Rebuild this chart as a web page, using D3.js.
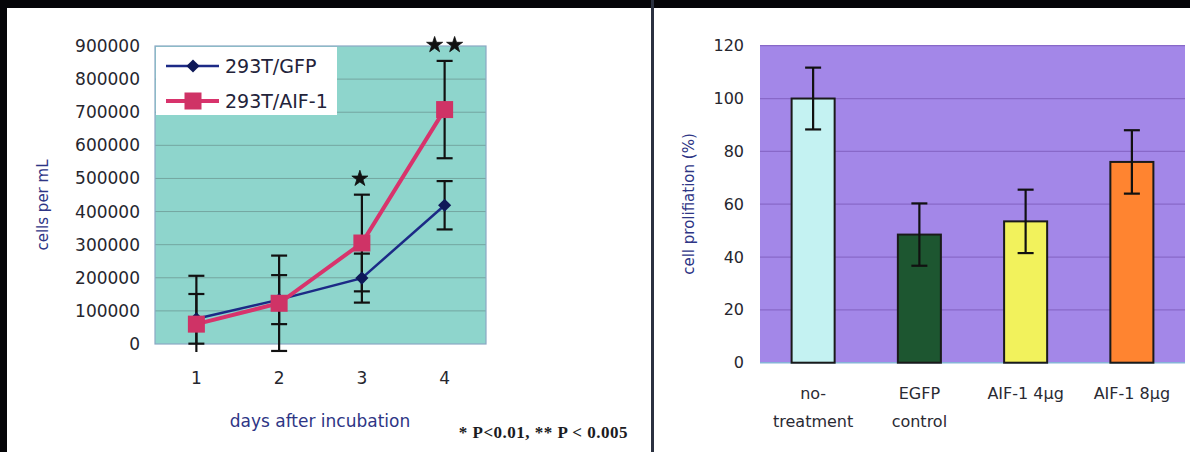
<!DOCTYPE html>
<html>
<head>
<meta charset="utf-8">
<script src="https://cdn.jsdelivr.net/npm/d3@7"></script>
<style>
  html, body { margin: 0; padding: 0; background: #fff; }
  svg { display: block; }
  text { font-family: "DejaVu Sans", sans-serif; }
  text.note { font-family: "Liberation Serif", serif; font-weight: bold; letter-spacing: 0.5px; }
</style>
</head>
<body>
<svg id="fig" width="1190" height="452"></svg>
<script>
// ---- growth curve data (cells per mL) ----
const days = ["1", "2", "3", "4"];
const gfpCells = [76000, 134000, 199000, 419000];
const gfpErr = [75000, 74000, 74000, 73000];
const aifCells = [60000, 123000, 305000, 708000];
const aifErr = [146000, 144000, 146000, 147000];
const cellTicks = [0, 100000, 200000, 300000, 400000, 500000, 600000, 700000, 800000, 900000];
const seriesNames = ["293T/GFP", "293T/AIF-1"];
// significance marks: day and number of stars
const sigDays = ["3", "4"];
const sigStars = [1, 2];
const footnote = "* P<0.01, ** P < 0.005";

// ---- proliferation data (%) ----
const groups = ["no-treatment", "EGFP control", "AIF-1 4µg", "AIF-1 8µg"];
const groupLines = [["no-", "treatment"], ["EGFP", "control"], ["AIF-1 4µg"], ["AIF-1 8µg"]];
const prolif = [100, 48.5, 53.5, 76];
const prolifErr = [11.7, 11.8, 12, 12];
const pctTicks = [0, 20, 40, 60, 80, 100, 120];
const barColors = ["#c4f2f2", "#1d5630", "#f2f25c", "#ff8430"];

const svg = d3.select("#fig");

// ---- frame ----
svg.append("rect").attr("x", 0).attr("y", 0).attr("width", 1190).attr("height", 452).attr("fill", "#fff");
svg.append("rect").attr("x", 0).attr("y", 0).attr("width", 1190).attr("height", 8).attr("fill", "#050508");
svg.append("rect").attr("x", 0).attr("y", 0).attr("width", 7).attr("height", 452).attr("fill", "#050508");
svg.append("rect").attr("x", 651).attr("y", 0).attr("width", 3).attr("height", 452).attr("fill", "#2b3140");

// =====================================================================
// Left: cell growth line chart
// =====================================================================
const L = { x0: 155, x1: 486, y0: 46, y1: 344 };
const xL = d3.scaleBand().domain(days).range([L.x0, L.x1]).padding(0);
const yL = d3.scaleLinear().domain([0, 900000]).range([L.y1, L.y0]);
const cx = d => xL(d) + xL.bandwidth() / 2;

const gL = svg.append("g");
gL.append("rect")
  .attr("x", L.x0).attr("y", L.y0)
  .attr("width", L.x1 - L.x0).attr("height", L.y1 - L.y0)
  .attr("fill", "#8ed5cc");

// horizontal gridlines
gL.append("g").selectAll("line")
  .data(cellTicks.filter(t => t > 0 && t < 900000))
  .join("line")
  .attr("x1", L.x0).attr("x2", L.x1)
  .attr("y1", d => yL(d)).attr("y2", d => yL(d))
  .attr("stroke", "#74a6a0").attr("stroke-width", 1);

gL.append("rect")
  .attr("x", L.x0).attr("y", L.y0)
  .attr("width", L.x1 - L.x0).attr("height", L.y1 - L.y0)
  .attr("fill", "none").attr("stroke", "#8aa8c4").attr("stroke-width", 1.2);

// y axis
const yAxisL = gL.append("g")
  .attr("transform", `translate(${L.x0},0)`)
  .call(d3.axisLeft(yL).tickValues(cellTicks).tickFormat(d3.format("d")).tickSize(0).tickPadding(15));
yAxisL.select(".domain").remove();
yAxisL.selectAll("text").attr("font-size", 17).attr("fill", "#26262e");

// x axis
const xAxisL = gL.append("g")
  .attr("transform", `translate(0,${L.y1})`)
  .call(d3.axisBottom(xL).tickSize(0).tickPadding(28));
xAxisL.select(".domain").remove();
xAxisL.selectAll("text").attr("font-size", 17).attr("fill", "#26262e");

gL.append("text")
  .attr("transform", "translate(48,205) rotate(-90)")
  .attr("text-anchor", "middle")
  .attr("font-size", 15).attr("fill", "#2e3585")
  .text("cells per mL");

gL.append("text")
  .attr("x", 320).attr("y", 427)
  .attr("text-anchor", "middle")
  .attr("font-size", 17).attr("fill", "#2e3585")
  .text("days after incubation");

gL.append("text")
  .attr("class", "note")
  .attr("x", 628).attr("y", 438)
  .attr("text-anchor", "end")
  .attr("font-size", 17).attr("fill", "#1b1b22")
  .text(footnote);

// error bars (clipped a little below the axis)
const clipY = L.y1 + 8;
function errBars(g, vals, errs, cap) {
  const data = vals.map((v, i) => ({ x: cx(days[i]), hi: yL(v + errs[i]), lo: yL(v - errs[i]) }));
  const eg = g.append("g").attr("stroke", "#111").attr("stroke-width", 2.2);
  data.forEach(d => {
    const lo = Math.min(d.lo, clipY);
    eg.append("line").attr("x1", d.x).attr("x2", d.x).attr("y1", d.hi).attr("y2", lo);
    eg.append("line").attr("x1", d.x - cap).attr("x2", d.x + cap).attr("y1", d.hi).attr("y2", d.hi);
    if (d.lo <= clipY) {
      eg.append("line").attr("x1", d.x - cap).attr("x2", d.x + cap).attr("y1", d.lo).attr("y2", d.lo);
    }
  });
}
errBars(gL, gfpCells, gfpErr, 8);
errBars(gL, aifCells, aifErr, 8);

// lines
const lineGen = d3.line().x((d, i) => cx(days[i])).y(d => yL(d));
gL.append("path").datum(gfpCells)
  .attr("d", lineGen).attr("fill", "none")
  .attr("stroke", "#1c2a86").attr("stroke-width", 2.5);
gL.append("path").datum(aifCells)
  .attr("d", lineGen).attr("fill", "none")
  .attr("stroke", "#d8336c").attr("stroke-width", 4);

// markers
gL.append("g").selectAll("path")
  .data(gfpCells)
  .join("path")
  .attr("transform", (d, i) => `translate(${cx(days[i])},${yL(d)})`)
  .attr("d", d3.symbol(d3.symbolDiamond2, 110))
  .attr("fill", "#0e1858");
gL.append("g").selectAll("rect")
  .data(aifCells)
  .join("rect")
  .attr("x", (d, i) => cx(days[i]) - 8.5).attr("y", d => yL(d) - 8.5)
  .attr("width", 17).attr("height", 17)
  .attr("fill", "#cf3366");

// significance stars above the upper error bar of the AIF-1 series
sigDays.forEach((day, k) => {
  const i = days.indexOf(day);
  const top = yL(aifCells[i] + aifErr[i]) - 16;
  const n = sigStars[k];
  for (let j = 0; j < n; j++) {
    const dx = (j - (n - 1) / 2) * 20 - (n === 1 ? 2 : 0);
    gL.append("path")
      .attr("transform", `translate(${cx(day) + dx},${top})`)
      .attr("d", d3.symbol(d3.symbolStar, 80))
      .attr("fill", "#111").attr("stroke", "#111").attr("stroke-width", 0.8)
      .attr("stroke-linejoin", "round");
  }
});

// legend
const lg = gL.append("g");
lg.append("rect").attr("x", 156).attr("y", 47).attr("width", 181).attr("height", 68).attr("fill", "#fff");
const legendRows = [
  { name: seriesNames[0], y: 66, color: "#1c2a86", w: 2.5, mark: "diamond", mc: "#0e1858" },
  { name: seriesNames[1], y: 101, color: "#d8336c", w: 4, mark: "square", mc: "#cf3366" }
];
legendRows.forEach(r => {
  lg.append("line").attr("x1", 166).attr("x2", 219).attr("y1", r.y).attr("y2", r.y)
    .attr("stroke", r.color).attr("stroke-width", r.w);
  if (r.mark === "diamond") {
    lg.append("path").attr("transform", `translate(193,${r.y})`)
      .attr("d", d3.symbol(d3.symbolDiamond2, 110)).attr("fill", r.mc);
  } else {
    lg.append("rect").attr("x", 193 - 8.5).attr("y", r.y - 8.5).attr("width", 17).attr("height", 17).attr("fill", r.mc);
  }
  lg.append("text").attr("x", 225).attr("y", r.y + 7)
    .attr("font-size", 19).attr("fill", "#23233a").text(r.name);
});

// =====================================================================
// Right: proliferation bar chart
// =====================================================================
const R = { x0: 760, x1: 1185, y0: 45.7, y1: 362.7 };
const xR = d3.scaleBand().domain(groups).range([R.x0, R.x1]).padding(0);
const yR = d3.scaleLinear().domain([0, 120]).range([R.y1, R.y0]);
const barW = xR.bandwidth() * 0.405;
const bx = g => xR(g) + xR.bandwidth() / 2;

const gR = svg.append("g");
gR.append("rect")
  .attr("x", R.x0).attr("y", R.y0)
  .attr("width", R.x1 - R.x0).attr("height", R.y1 - R.y0)
  .attr("fill", "#a387e8");
gR.append("g").selectAll("line")
  .data(pctTicks.filter(t => t > 0))
  .join("line")
  .attr("x1", R.x0).attr("x2", R.x1)
  .attr("y1", d => yR(d)).attr("y2", d => yR(d))
  .attr("stroke", "#8868c8").attr("stroke-width", 1.2);
gR.append("line")
  .attr("x1", R.x0).attr("x2", R.x1).attr("y1", R.y1).attr("y2", R.y1)
  .attr("stroke", "#86b4d8").attr("stroke-width", 1.5);

const yAxisR = gR.append("g")
  .attr("transform", `translate(${R.x0},0)`)
  .call(d3.axisLeft(yR).tickValues(pctTicks).tickSize(0).tickPadding(16));
yAxisR.select(".domain").remove();
yAxisR.selectAll("text").attr("font-size", 16).attr("fill", "#26262e");

gR.append("text")
  .attr("transform", "translate(694,204) rotate(-90)")
  .attr("text-anchor", "middle")
  .attr("font-size", 15).attr("fill", "#2e3585")
  .text("cell prolifiation (%)");

// bars
gR.append("g").selectAll("rect")
  .data(prolif)
  .join("rect")
  .attr("x", (d, i) => bx(groups[i]) - barW / 2)
  .attr("y", d => yR(d))
  .attr("width", barW)
  .attr("height", d => yR(0) - yR(d))
  .attr("fill", (d, i) => barColors[i])
  .attr("stroke", "#1a1a1a").attr("stroke-width", 2);

// error bars
const eR = gR.append("g").attr("stroke", "#111").attr("stroke-width", 2.2);
prolif.forEach((v, i) => {
  const x = bx(groups[i]);
  const hi = yR(v + prolifErr[i]), lo = yR(v - prolifErr[i]);
  eR.append("line").attr("x1", x).attr("x2", x).attr("y1", hi).attr("y2", lo);
  eR.append("line").attr("x1", x - 8).attr("x2", x + 8).attr("y1", hi).attr("y2", hi);
  eR.append("line").attr("x1", x - 8).attr("x2", x + 8).attr("y1", lo).attr("y2", lo);
});

// category labels (one or two lines)
groupLines.forEach((lines, i) => {
  const t = gR.append("text")
    .attr("text-anchor", "middle")
    .attr("font-size", 16).attr("fill", "#2a2a33");
  lines.forEach((s, k) => {
    t.append("tspan").attr("x", bx(groups[i])).attr("y", 399 + k * 28).text(s);
  });
});
</script>
</body>
</html>
